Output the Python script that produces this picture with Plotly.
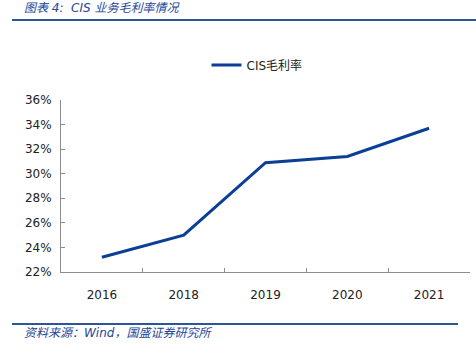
import plotly.graph_objects as go

# CIS gross margin by year (%)
years = ["2016", "2018", "2019", "2020", "2021"]
cis_margin = [23.2, 25.0, 30.9, 31.4, 33.7]
y_ticks = [22, 24, 26, 28, 30, 32, 34, 36]
y_tick_text = [f"{v}%" for v in y_ticks]

LINE_BLUE = "#0B3F96"
TITLE_BLUE = "#23459A"
RULE_BLUE = "#2E5597"

W, H = 476, 350
ML, MR, MT, MB = 61, 6, 100, 78
PW, PH = W - ML - MR, H - MT - MB


def px_x(x):
    return (x - ML) / PW


def px_y(y):
    return (H - MB - y) / PH


fig = go.Figure()
fig.add_trace(go.Scatter(
    x=years, y=cis_margin, mode="lines", name="CIS毛利率",
    line=dict(color=LINE_BLUE, width=3),
))

fig.update_layout(
    width=W, height=H,
    margin=dict(l=ML, r=MR, t=MT, b=MB),
    paper_bgcolor="white", plot_bgcolor="white",
    font=dict(family="DejaVu Sans", size=12, color="#222"),
    showlegend=True,
    legend=dict(
        orientation="h", x=px_x(257), y=px_y(65),
        xanchor="center", yanchor="middle",
        font=dict(family="DejaVu Sans, Noto Sans CJK SC", size=12, color="#222"),
        bgcolor="rgba(0,0,0,0)",
    ),
    xaxis=dict(
        type="category", range=[-0.5, len(years) - 0.5],
        showgrid=False, zeroline=False,
        showline=True, linecolor="#8c8c8c", linewidth=1,
        ticks="inside", tickson="boundaries", ticklen=4, tickcolor="#8c8c8c",
        tickfont=dict(size=12, color="#222"),
        ticklabelstandoff=12,
        fixedrange=True,
    ),
    yaxis=dict(
        range=[22, 36], tickvals=y_ticks, ticktext=y_tick_text,
        showgrid=False, zeroline=False,
        showline=True, linecolor="#8c8c8c", linewidth=1,
        ticks="inside", ticklen=4, tickcolor="#8c8c8c",
        tickfont=dict(size=12, color="#222"),
        ticklabelstandoff=6,
    ),
    shapes=[
        dict(type="line", xref="paper", yref="paper",
             x0=px_x(12), x1=px_x(476), y0=px_y(20), y1=px_y(20),
             line=dict(color=RULE_BLUE, width=2)),
        dict(type="line", xref="paper", yref="paper",
             x0=px_x(12), x1=px_x(458), y0=px_y(324), y1=px_y(324),
             line=dict(color=RULE_BLUE, width=2)),
    ],
    annotations=[
        dict(text="图表 4:  CIS 业务毛利率情况", xref="paper", yref="paper",
             x=px_x(22), y=px_y(8), xanchor="left", yanchor="middle",
             showarrow=False,
             font=dict(family="DejaVu Sans, Noto Sans CJK SC", size=12,
                       color=TITLE_BLUE, style="italic")),
        dict(text="资料来源：Wind，国盛证券研究所", xref="paper", yref="paper",
             x=px_x(22), y=px_y(333), xanchor="left", yanchor="middle",
             showarrow=False,
             font=dict(family="DejaVu Sans, Noto Sans CJK SC", size=12,
                       color=TITLE_BLUE, style="italic")),
    ],
)

fig.write_html("out.html")
